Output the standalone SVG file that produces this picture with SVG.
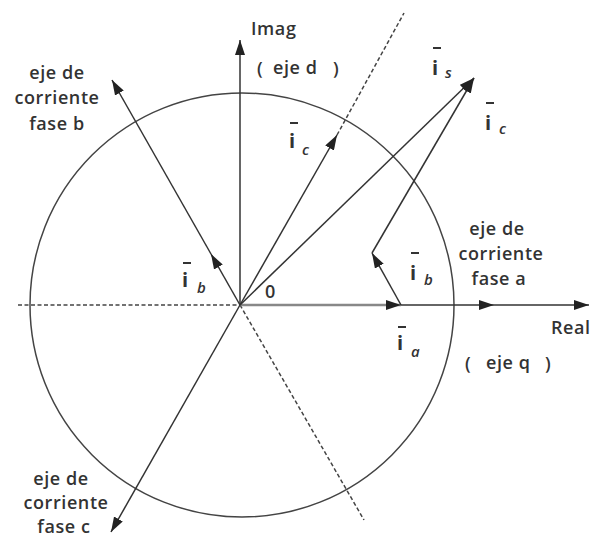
<svg xmlns="http://www.w3.org/2000/svg" width="594" height="537" viewBox="0 0 594 537">
<style>
.ln{stroke:#333;stroke-width:1.5;fill:none}
.dash{stroke:#444;stroke-width:1.5;fill:none;stroke-dasharray:4 2.5}
.circ{stroke:#444;stroke-width:1.5;fill:none}
.t{font-family:"Open Sans","Liberation Sans",sans-serif;font-weight:600;font-size:18px;letter-spacing:0.6px;fill:#333}
.c{text-anchor:middle}
.v{font-family:"Open Sans","Liberation Sans",sans-serif;font-weight:700;font-size:20px;fill:#333}
.sub{font-family:"Open Sans","Liberation Sans",sans-serif;font-style:italic;font-weight:600;font-size:15px;fill:#333}
.bar{stroke:#333;stroke-width:2}
</style>
<defs>
<marker id="ah" markerUnits="userSpaceOnUse" markerWidth="15" markerHeight="10" refX="15" refY="5" orient="auto">
<path d="M0,0 L15,5 L0,10 z" fill="#222"/>
</marker>
</defs>
<g id="circle"><circle class="circ" cx="242" cy="305" r="212"/></g>
<g id="connectors">
<line class="dash" x1="18" y1="305" x2="240" y2="305"/>
<line class="dash" x1="337" y1="135" x2="404" y2="13"/>
<line class="dash" x1="240" y1="305" x2="364" y2="520"/>
<line class="ln" x1="240" y1="305" x2="240" y2="40" marker-end="url(#ah)"/>
<line x1="240" y1="305" x2="401" y2="305" stroke="#888" stroke-width="2.5" marker-end="url(#ah)"/>
<line class="ln" x1="401" y1="305" x2="494" y2="305" marker-end="url(#ah)"/>
<line class="ln" x1="494" y1="305" x2="589" y2="305" marker-end="url(#ah)"/>
<line class="ln" x1="240" y1="305" x2="211" y2="254" marker-end="url(#ah)"/>
<line class="ln" x1="211" y1="254" x2="112" y2="80" marker-end="url(#ah)"/>
<line class="ln" x1="240" y1="305" x2="111" y2="532" marker-end="url(#ah)"/>
<line class="ln" x1="240" y1="305" x2="337" y2="135" marker-end="url(#ah)"/>
<line class="ln" x1="240" y1="305" x2="474" y2="78" marker-end="url(#ah)"/>
<line class="ln" x1="401" y1="305" x2="372" y2="253" marker-end="url(#ah)"/>
<line class="ln" x1="372" y1="253" x2="474" y2="78" marker-end="url(#ah)"/>
</g>
<g id="label-imag"><text class="t" x="251" y="35">Imag</text></g>
<g id="label-eje-d">
<text class="t" x="257" y="75">(</text>
<text class="t" x="273" y="74">eje d</text>
<text class="t" x="333" y="75">)</text>
</g>
<g id="label-fase-b">
<text class="t c" x="57" y="79">eje de</text>
<text class="t c" x="57" y="104">corriente</text>
<text class="t c" x="57" y="130">fase b</text>
</g>
<g id="label-fase-a">
<text class="t c" x="497" y="235">eje de</text>
<text class="t c" x="501" y="260">corriente</text>
<text class="t c" x="499" y="285">fase a</text>
</g>
<g id="label-fase-c">
<text class="t c" x="61" y="485">eje de</text>
<text class="t c" x="66" y="509">corriente</text>
<text class="t c" x="64" y="533">fase c</text>
</g>
<g id="label-real"><text class="t" x="551" y="334">Real</text></g>
<g id="label-eje-q">
<text class="t" x="465" y="370">(</text>
<text class="t" x="486" y="369">eje q</text>
<text class="t" x="545" y="370">)</text>
</g>
<g id="label-zero"><text class="t" x="265" y="298">0</text></g>
<g id="label-ib-left">
<line class="bar" x1="183" y1="263" x2="191" y2="263"/>
<text class="v" x="182" y="287">i</text><text class="sub" x="197" y="293">b</text>
</g>
<g id="label-ic-left">
<line class="bar" x1="290" y1="123" x2="298" y2="123"/>
<text class="v" x="289" y="148">i</text><text class="sub" x="302" y="155">c</text>
</g>
<g id="label-is">
<line class="bar" x1="433" y1="48" x2="441" y2="48"/>
<text class="v" x="432" y="75">i</text><text class="sub" x="445" y="78" font-style="normal">s</text>
</g>
<g id="label-ic-right">
<line class="bar" x1="486" y1="103" x2="494" y2="103"/>
<text class="v" x="485" y="130">i</text><text class="sub" x="499" y="134">c</text>
</g>
<g id="label-ib-right">
<line class="bar" x1="411" y1="253" x2="419" y2="253"/>
<text class="v" x="410" y="280">i</text><text class="sub" x="424" y="285">b</text>
</g>
<g id="label-ia">
<line class="bar" x1="398" y1="327" x2="406" y2="327"/>
<text class="v" x="397" y="350">i</text><text class="sub" x="411" y="357">a</text>
</g>
</svg>
